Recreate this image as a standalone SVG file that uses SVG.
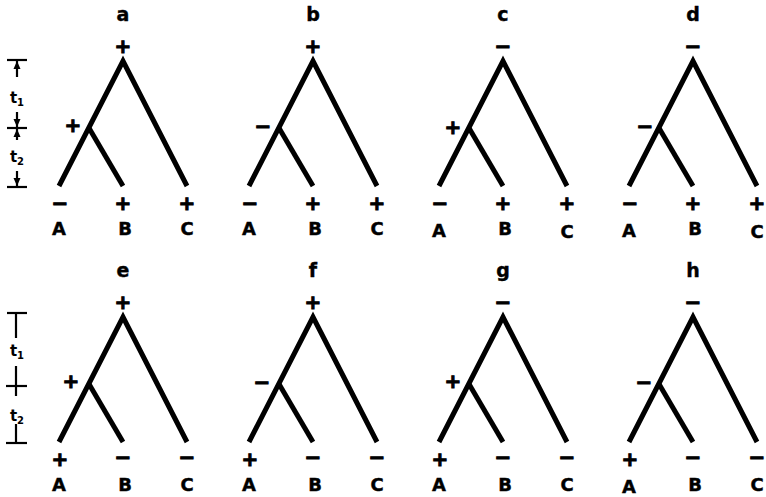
<svg xmlns="http://www.w3.org/2000/svg" width="766" height="497" viewBox="0 0 766 497">
<style>
.br{fill:none;stroke:#000;stroke-width:5;stroke-linejoin:miter;stroke-miterlimit:10}
.sg{font-family:"DejaVu Sans",sans-serif;font-weight:bold;font-size:20px;text-anchor:middle;fill:#000;stroke:#000;stroke-width:1}
.lt{font-family:"DejaVu Sans",sans-serif;font-weight:bold;font-size:18px;text-anchor:middle;fill:#000;stroke:#000;stroke-width:0.4}
.tl{font-family:"DejaVu Sans",sans-serif;font-weight:bold;font-size:19px;text-anchor:middle;fill:#000;stroke:#000;stroke-width:0.4}
.sc{stroke:#000;stroke-width:2.2;fill:none}
.tt{font-family:"DejaVu Sans",sans-serif;font-weight:bold;font-size:15px;text-anchor:middle;fill:#000}
.sub{font-size:10px}
</style>
<g id="scale-top">
<line class="sc" x1="7" y1="60" x2="27" y2="60"/>
<line class="sc" x1="17" y1="60" x2="17" y2="77"/>
<path d="M17,61 L13.5,69 L20.5,69 Z"/>
<text class="tt" x="17" y="103">t<tspan class="sub" dy="3">1</tspan></text>
<line class="sc" x1="17" y1="112" x2="17" y2="140"/>
<line class="sc" x1="7" y1="128" x2="27" y2="128"/>
<path d="M17,127 L13.5,119 L20.5,119 Z"/>
<path d="M17,129 L13.5,137 L20.5,137 Z"/>
<text class="tt" x="17" y="162">t<tspan class="sub" dy="3">2</tspan></text>
<line class="sc" x1="17" y1="171" x2="17" y2="186"/>
<line class="sc" x1="7" y1="187" x2="27" y2="187"/>
<path d="M17,186 L13.5,178 L20.5,178 Z"/>
</g>
<g id="scale-bottom">
<line class="sc" x1="7" y1="313" x2="27" y2="313"/>
<line class="sc" x1="16" y1="313" x2="16" y2="338"/>
<text class="tt" x="17" y="356">t<tspan class="sub" dy="3">1</tspan></text>
<line class="sc" x1="16" y1="366" x2="16" y2="396"/>
<line class="sc" x1="6" y1="386" x2="27" y2="386"/>
<text class="tt" x="17" y="421">t<tspan class="sub" dy="3">2</tspan></text>
<line class="sc" x1="16" y1="424" x2="16" y2="443"/>
<line class="sc" x1="6" y1="443" x2="27" y2="443"/>
</g>
<g id="connectors">
<polyline class="br" points="59,186 123,61 187,186"/><line class="br" x1="89" y1="128" x2="123" y2="186"/>
<polyline class="br" points="249,186 313,61 377,186"/><line class="br" x1="279" y1="128" x2="313" y2="186"/>
<polyline class="br" points="439,186 503,61 567,186"/><line class="br" x1="469" y1="128" x2="503" y2="186"/>
<polyline class="br" points="629,186 693,61 757,186"/><line class="br" x1="659" y1="128" x2="693" y2="186"/>
<polyline class="br" points="59,442 123,317 187,442"/><line class="br" x1="89" y1="384" x2="123" y2="442"/>
<polyline class="br" points="249,442 313,317 377,442"/><line class="br" x1="279" y1="384" x2="313" y2="442"/>
<polyline class="br" points="439,442 503,317 567,442"/><line class="br" x1="469" y1="384" x2="503" y2="442"/>
<polyline class="br" points="629,442 693,317 757,442"/><line class="br" x1="659" y1="384" x2="693" y2="442"/>
</g>
<g id="tree-a">
<text class="tl" x="123" y="21">a</text>
<text class="sg" x="123" y="53">+</text>
<text class="sg" x="73" y="132">+</text>
<text class="sg" x="60" y="210">−</text><text class="sg" x="123" y="210">+</text><text class="sg" x="187" y="210">+</text>
<text class="lt" x="59" y="235">A</text><text class="lt" x="125" y="235">B</text><text class="lt" x="187" y="235">C</text>
</g>
<g id="tree-b">
<text class="tl" x="313" y="21">b</text>
<text class="sg" x="313" y="53">+</text>
<text class="sg" x="263" y="133">−</text>
<text class="sg" x="250" y="210">−</text><text class="sg" x="313" y="210">+</text><text class="sg" x="377" y="210">+</text>
<text class="lt" x="249" y="235">A</text><text class="lt" x="315" y="235">B</text><text class="lt" x="377" y="235">C</text>
</g>
<g id="tree-c">
<text class="tl" x="503" y="21">c</text>
<text class="sg" x="503" y="53">−</text>
<text class="sg" x="453" y="134">+</text>
<text class="sg" x="440" y="210">−</text><text class="sg" x="503" y="210">+</text><text class="sg" x="567" y="210">+</text>
<text class="lt" x="439" y="237">A</text><text class="lt" x="505" y="235">B</text><text class="lt" x="567" y="238">C</text>
</g>
<g id="tree-d">
<text class="tl" x="693" y="21">d</text>
<text class="sg" x="693" y="53">−</text>
<text class="sg" x="645" y="133">−</text>
<text class="sg" x="630" y="210">−</text><text class="sg" x="693" y="210">+</text><text class="sg" x="757" y="210">+</text>
<text class="lt" x="629" y="237">A</text><text class="lt" x="695" y="235">B</text><text class="lt" x="757" y="238">C</text>
</g>
<g id="tree-e">
<text class="tl" x="123" y="277">e</text>
<text class="sg" x="123" y="309">+</text>
<text class="sg" x="71" y="388">+</text>
<text class="sg" x="60" y="466">+</text><text class="sg" x="123" y="464">−</text><text class="sg" x="187" y="464">−</text>
<text class="lt" x="59" y="491">A</text><text class="lt" x="125" y="491">B</text><text class="lt" x="187" y="491">C</text>
</g>
<g id="tree-f">
<text class="tl" x="313" y="277">f</text>
<text class="sg" x="313" y="309">+</text>
<text class="sg" x="262" y="389">−</text>
<text class="sg" x="250" y="466">+</text><text class="sg" x="313" y="464">−</text><text class="sg" x="377" y="464">−</text>
<text class="lt" x="249" y="491">A</text><text class="lt" x="315" y="491">B</text><text class="lt" x="377" y="491">C</text>
</g>
<g id="tree-g">
<text class="tl" x="503" y="277">g</text>
<text class="sg" x="503" y="309">−</text>
<text class="sg" x="453" y="388">+</text>
<text class="sg" x="440" y="466">+</text><text class="sg" x="503" y="464">−</text><text class="sg" x="567" y="464">−</text>
<text class="lt" x="439" y="491">A</text><text class="lt" x="505" y="491">B</text><text class="lt" x="567" y="491">C</text>
</g>
<g id="tree-h">
<text class="tl" x="693" y="277">h</text>
<text class="sg" x="693" y="309">−</text>
<text class="sg" x="644" y="389">−</text>
<text class="sg" x="630" y="466">+</text><text class="sg" x="693" y="464">−</text><text class="sg" x="757" y="464">−</text>
<text class="lt" x="629" y="493">A</text><text class="lt" x="695" y="491">B</text><text class="lt" x="757" y="491">C</text>
</g>
</svg>
